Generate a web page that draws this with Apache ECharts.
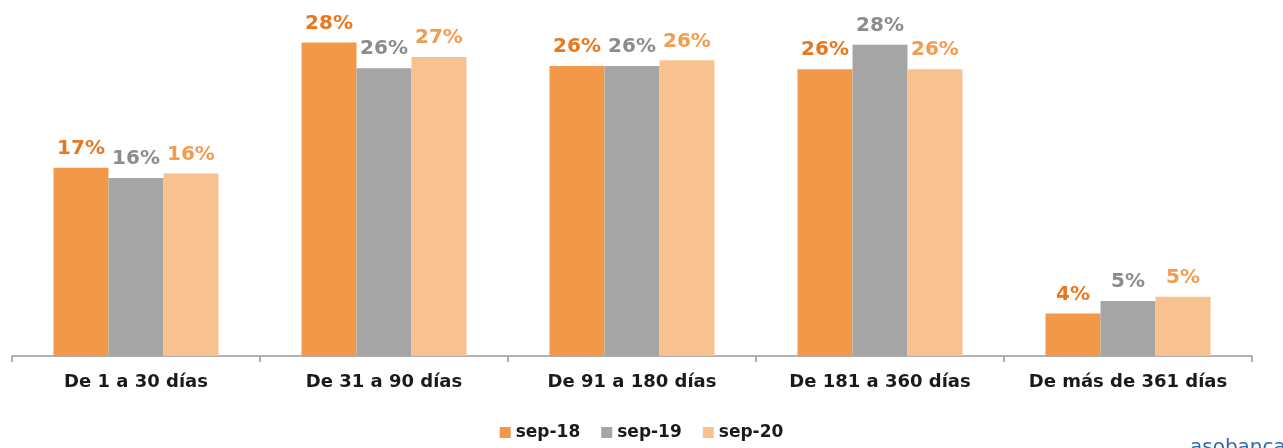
<!DOCTYPE html>
<html>
<head>
<meta charset="utf-8">
<script src="https://cdn.jsdelivr.net/npm/echarts@6/dist/echarts.min.js"></script>
<style>
  html, body { margin: 0; padding: 0; background: #fff; }
  #chart { width: 1283px; height: 448px; }
</style>
</head>
<body>
<div id="chart"></div>
<script>
// categories and values (% of total)
var categories = ['De 1 a 30 días', 'De 31 a 90 días', 'De 91 a 180 días', 'De 181 a 360 días', 'De más de 361 días'];
var sep18 = [16.8, 28.0, 25.9, 25.6, 3.8];
var sep19 = [15.9, 25.7, 25.9, 27.8, 4.9];
var sep20 = [16.3, 26.7, 26.4, 25.6, 5.3];
var seriesNames = ['sep-18', 'sep-19', 'sep-20'];

var barColors = ['#F39848', '#A5A5A5', '#F8C290'];
var labelColors = ['#E8781E', '#8C8C8C', '#F39C50'];
var font = '"DejaVu Sans", sans-serif';

var chart = echarts.init(document.getElementById('chart'));

function makeSeries(name, data, i) {
    return {
        name: name,
        type: 'bar',
        data: data,
        barGap: '0%',
        barCategoryGap: '33.5%',
        itemStyle: { color: barColors[i] },
        label: {
            show: true,
            position: 'top',
            distance: 9,
            color: labelColors[i],
            fontFamily: font,
            fontWeight: 'bold',
            fontSize: 20,
            formatter: function (p) {
                return Math.round(p.value) + '%';
            }
        }
    };
}

var option = {
    animation: false,
    textStyle: { fontFamily: font },
    grid: { left: 12, right: 31, top: 20, bottom: 92 },
    legend: {
        data: seriesNames,
        bottom: 2,
        left: 'center',
        icon: 'rect',
        itemWidth: 11,
        itemHeight: 11,
        itemGap: 21,
        textStyle: { color: '#1a1a1a', fontSize: 17, fontWeight: 'bold', fontFamily: font }
    },
    xAxis: {
        type: 'category',
        data: categories,
        axisLine: { lineStyle: { color: '#999999', width: 1.5 } },
        axisTick: { show: true, interval: 0, length: 6, lineStyle: { color: '#999999', width: 1.5 } },
        axisLabel: {
            interval: 0,
            hideOverlap: false,
            margin: 17,
            color: '#1a1a1a',
            fontSize: 18,
            fontWeight: 'bold',
            fontFamily: font
        }
    },
    yAxis: {
        type: 'value',
        min: 0,
        max: 30,
        show: false
    },
    graphic: [{
        type: 'text',
        left: 1190,
        bottom: -10,
        style: {
            text: 'asobanca',
            fill: '#3566B0',
            font: '20px "DejaVu Sans", sans-serif'
        }
    }],
    series: [
        makeSeries(seriesNames[0], sep18, 0),
        makeSeries(seriesNames[1], sep19, 1),
        makeSeries(seriesNames[2], sep20, 2)
    ]
};

chart.setOption(option);
</script>
</body>
</html>
